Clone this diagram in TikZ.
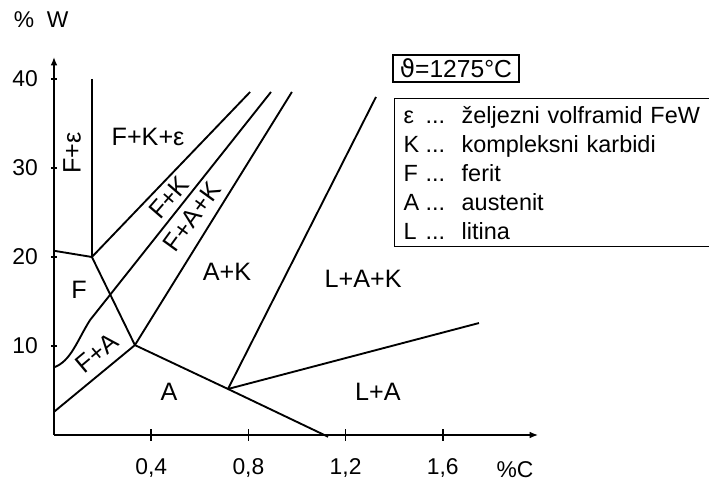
\documentclass[tikz,border=0pt]{standalone}
\usepackage{fontspec}
\setmainfont{Liberation Sans}
\newfontfamily\dejavu{DejaVu Sans}
\usetikzlibrary{arrows.meta}
\newcommand{\legline}[2]{\makebox[0.66cm][l]{#1}\makebox[1.08cm][l]{...}#2}

\begin{document}
\begin{tikzpicture}[x=7.29cm, y=0.267cm,
    boundary/.style={line width=1.6pt},
    axis/.style={line width=1.2pt, -{Latex[length=0.25cm,width=0.2cm]}},
    phase/.style={font=\fontsize{21.5}{25}\selectfont, inner sep=0pt},
    ticklab/.style={font=\fontsize{19.5}{23}\selectfont, inner sep=0pt},
    framebox/.style={draw, line width=1.3pt}]
  \useasboundingbox (-0.2222,-5.169) rectangle (2.6955,48.876);
  % Axes
  \coordinate (O) at (0,0);
  \coordinate (xend) at (1.992,0);
  \coordinate (yend) at (0,42.47);
  \draw[axis] (O) -- (xend);
  \draw[axis] (O) -- (yend);
  \foreach \x/\lab in {0.4/{0,4}, 0.8/{0,8}, 1.2/{1,2}, 1.6/{1,6}} {
    \draw[line width=1.2pt] (\x,0) ++(0,-5pt) -- ++(0,10pt);
    \node[ticklab] (xl\x) at (\x,-3.71) {\lab};
  }
  \foreach \y in {10,20,30,40} {
    \draw[line width=1.2pt] (0,\y) ++(-2.5pt,0) -- ++(5pt,0);
    \node[ticklab, anchor=east] (yl\y) at (-0.066,\y) {\y};
  }
  \node[ticklab] (wlab) at (-0.053,46.63) {\%\ \ W};
  \node[ticklab] (clab) at (1.897,-3.93) {\%C};
  % Corner points of the regions
  \coordinate (J1) at (0.156,20);
  \coordinate (J2) at (0.333,10.1);
  \coordinate (J3) at (0.716,5.17);
  \coordinate (Ebend) at (0.148,12.9);
  % Ends on the axes and at the top
  \coordinate (Fe) at (0,20.7);
  \coordinate (Fa) at (0,7.6);
  \coordinate (Aa) at (0,2.6);
  \coordinate (Ax) at (1.128,-0.2);
  \coordinate (Vtop) at (0.156,40);
  \coordinate (T1) at (0.807,38.54);
  \coordinate (T2) at (0.893,38.54);
  \coordinate (T3) at (0.979,38.54);
  \coordinate (T4) at (1.325,37.98);
  \coordinate (R1) at (1.749,12.58);
  % Phase boundaries
  \draw[boundary] (Vtop) -- (J1);
  \draw[boundary] (Fe) -- (J1) -- (T1);
  \draw[boundary] (T2) -- (Ebend) .. controls (0.095,10.6) and (0.07,8.3) .. (Fa);
  \draw[boundary] (T3) -- (J2);
  \draw[boundary] (J1) -- (J2);
  \draw[boundary] (Aa) -- (J2) -- (J3) -- (Ax);
  \draw[boundary] (J3) -- (T4);
  \draw[boundary] (J3) -- (R1);
  % Region labels
  \node[phase, rotate=90] (fe) at (0.074,31.7) {F+ε};
  \node[phase] (fke) at (0.387,33.5) {F+K+ε};
  \node[phase, rotate=49] (fk) at (0.473,26.7) {F+K};
  \node[phase, rotate=54] (fak) at (0.568,24.5) {F+A+K};
  \node[phase] (ak) at (0.712,18.3) {A+K};
  \node[phase] (lak) at (1.272,17.5) {L+A+K};
  \node[phase] (f) at (0.103,16.3) {F};
  \node[phase, rotate=40] (fa) at (0.177,9.2) {F+A};
  \node[phase] (a) at (0.473,4.83) {A};
  \node[phase] (la) at (1.333,4.83) {L+A};
  % Temperature and legend
  \node[framebox, minimum width=3.78cm, minimum height=0.81cm, inner sep=0pt,
    font=\fontsize{21}{25}\selectfont] (temp)
    at (1.654,41.2) {{\dejavu ϑ}=1275°C};
  \node[framebox, anchor=north west, text width=9.8cm, align=left,
    inner xsep=0.27cm, inner ysep=0.2cm, minimum height=4.44cm,
    font=\fontsize{20}{24.7}\selectfont] (legend) at (1.399,37.87)
    {\legline{ε}{željezni volframid FeW}\\
     \legline{K}{kompleksni karbidi}\\
     \legline{F}{ferit}\\
     \legline{A}{austenit}\\
     \legline{L}{litina}};
\end{tikzpicture}
\end{document}
